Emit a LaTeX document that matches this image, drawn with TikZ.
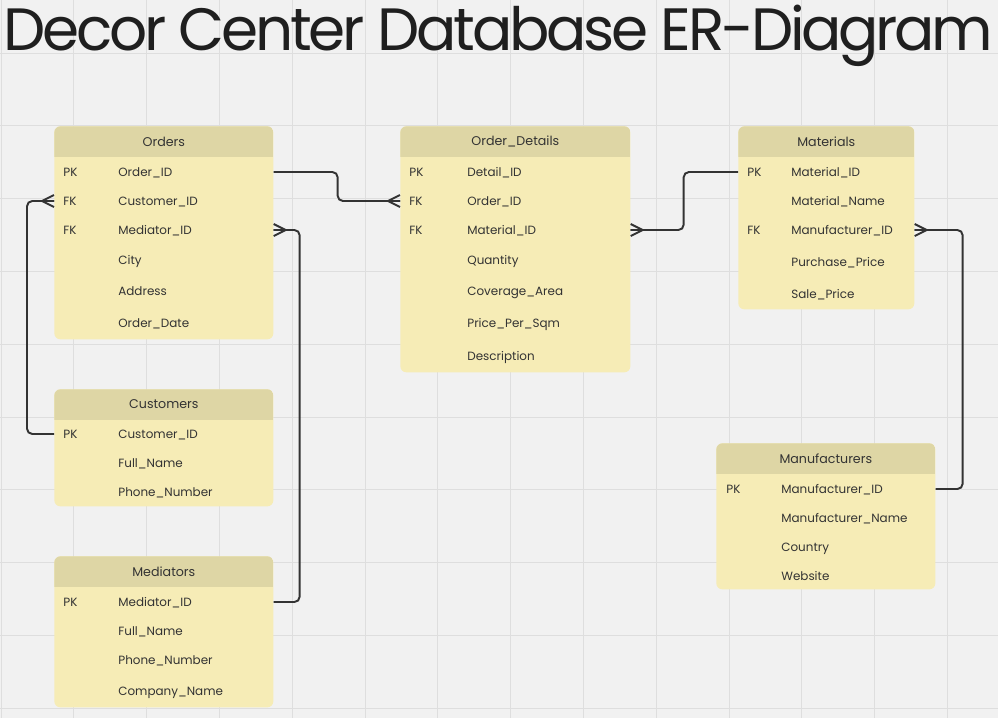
\documentclass[tikz,border=0pt]{standalone}
\usepackage{fontspec}
\setmainfont{Poppins}
\newfontfamily\titlefont[LetterSpace=-5.5]{Poppins}
\usetikzlibrary{positioning,calc}
\definecolor{bgcol}{HTML}{F1F1F1}
\definecolor{gridcol}{HTML}{DEDEDE}
\definecolor{bodycol}{HTML}{F6ECB6}
\definecolor{headcol}{HTML}{DED6A5}
\definecolor{inkcol}{HTML}{333333}
\tikzset{
  tab/.style={anchor=north west, inner sep=0pt, fill=bodycol, rounded corners=3.4pt,
    path picture={\fill[headcol, sharp corners] (path picture bounding box.north west) rectangle ([yshift=-0.62cm]path picture bounding box.north east);}},
  headtxt/.style={font=\fontsize{7.2}{9}\selectfont, text=inkcol, inner sep=0pt},
  celltxt/.style={anchor=west, font=\fontsize{6.8}{9}\selectfont, text=inkcol, inner sep=0pt, text height=6pt, text depth=1pt},
  link/.style={draw=inkcol, line width=1.1pt, rounded corners=3pt},
  crowfoot/.pic={\draw[inkcol, line width=1.1pt] (0,-6) -- (12,0) -- (0,6) (0,0) -- (12,0);}
}

\begin{document}
\begin{tikzpicture}[x=0.02cm, y=-0.02cm]
	\useasboundingbox (0,0) rectangle (998,718);
	\fill[bgcol] (0,0) rectangle (998,718);
	% grid
	\foreach \gx in {0,...,13}
		\draw[gridcol, line width=0.5pt] ({1+72.8*\gx},0) -- ({1+72.8*\gx},718);
	\foreach \gy in {0,...,9}
		\draw[gridcol, line width=0.5pt] (0,{53+72.8*\gy}) -- (998,{53+72.8*\gy});

	\node[anchor=base west, font=\titlefont\fontsize{34}{40}\selectfont, text=black!88, inner sep=0pt] (title) at (3,50) {Decor Center Database ER-Diagram};

	% Orders
	\node[tab, minimum width=4.38cm, minimum height=4.26cm] (ord) at (54,126) {};
	\node[headtxt] (ord-t) at ([yshift=-0.31cm]ord.north) {Orders};
	\foreach \k/\f/\y [count=\i] in {PK/Order\_ID/172, FK/Customer\_ID/201, FK/Mediator\_ID/230, /City/260, /Address/291, /Order\_Date/323} {
		\node[celltxt] (ord-k\i) at (63,\y) {\k};
		\node[celltxt] (ord\i) at (118,\y) {\f};
	}

	% Order_Details
	\node[tab, minimum width=4.60cm, minimum height=4.92cm] (od) at (400,126) {};
	\node[headtxt] (od-t) at ([yshift=-0.31cm]od.north) {Order\_Details};
	\foreach \k/\f/\y [count=\i] in {PK/Detail\_ID/172, FK/Order\_ID/201, FK/Material\_ID/230, /Quantity/260, /Coverage\_Area/291, /Price\_Per\_Sqm/323, /Description/356} {
		\node[celltxt] (od-k\i) at (409,\y) {\k};
		\node[celltxt] (od\i) at (467,\y) {\f};
	}

	% Materials
	\node[tab, minimum width=3.52cm, minimum height=3.66cm] (mat) at (738,126) {};
	\node[headtxt] (mat-t) at ([yshift=-0.31cm]mat.north) {Materials};
	\foreach \k/\f/\y [count=\i] in {PK/Material\_ID/172, /Material\_Name/201, FK/Manufacturer\_ID/230, /Purchase\_Price/262, /Sale\_Price/294} {
		\node[celltxt] (mat-k\i) at (747,\y) {\k};
		\node[celltxt] (mat\i) at (791,\y) {\f};
	}

	% Customers
	\node[tab, minimum width=4.38cm, minimum height=2.34cm] (cus) at (54,389) {};
	\node[headtxt] (cus-t) at ([yshift=-0.31cm]cus.north) {Customers};
	\foreach \k/\f/\y [count=\i] in {PK/Customer\_ID/434, /Full\_Name/463, /Phone\_Number/492} {
		\node[celltxt] (cus-k\i) at (63,\y) {\k};
		\node[celltxt] (cus\i) at (118,\y) {\f};
	}

	% Mediators
	\node[tab, minimum width=4.38cm, minimum height=3.02cm] (med) at (54,556) {};
	\node[headtxt] (med-t) at ([yshift=-0.31cm]med.north) {Mediators};
	\foreach \k/\f/\y [count=\i] in {PK/Mediator\_ID/602, /Full\_Name/631, /Phone\_Number/660, /Company\_Name/691} {
		\node[celltxt] (med-k\i) at (63,\y) {\k};
		\node[celltxt] (med\i) at (118,\y) {\f};
	}

	% Manufacturers
	\node[tab, minimum width=4.38cm, minimum height=2.92cm] (man) at (716,443) {};
	\node[headtxt] (man-t) at ([yshift=-0.31cm]man.north) {Manufacturers};
	\foreach \k/\f/\y [count=\i] in {PK/Manufacturer\_ID/489, /Manufacturer\_Name/518, /Country/547, /Website/576} {
		\node[celltxt] (man-k\i) at (726,\y) {\k};
		\node[celltxt] (man\i) at (781,\y) {\f};
	}

	% relations
	\draw[link] (ord1 -| ord.east) -- ++(64,0) |- (od2 -| od.west);
	\draw[link] (od3 -| od.east) -- ++(53,0) |- (mat1 -| mat.west);
	\draw[link] (mat3 -| mat.east) -- ++(48,0) |- (man1 -| man.east);
	\draw[link] (ord2 -| ord.west) -- ++(-27,0) |- (cus1 -| cus.west);
	\draw[link] (ord3 -| ord.east) -- ++(26,0) |- (med1 -| med.east);

	% many ends
	\pic[xscale=-1] at (od2 -| od.west) {crowfoot};
	\pic at (od3 -| od.east) {crowfoot};
	\pic at (mat3 -| mat.east) {crowfoot};
	\pic[xscale=-1] at (ord2 -| ord.west) {crowfoot};
	\pic at (ord3 -| ord.east) {crowfoot};
\end{tikzpicture}
\end{document}
